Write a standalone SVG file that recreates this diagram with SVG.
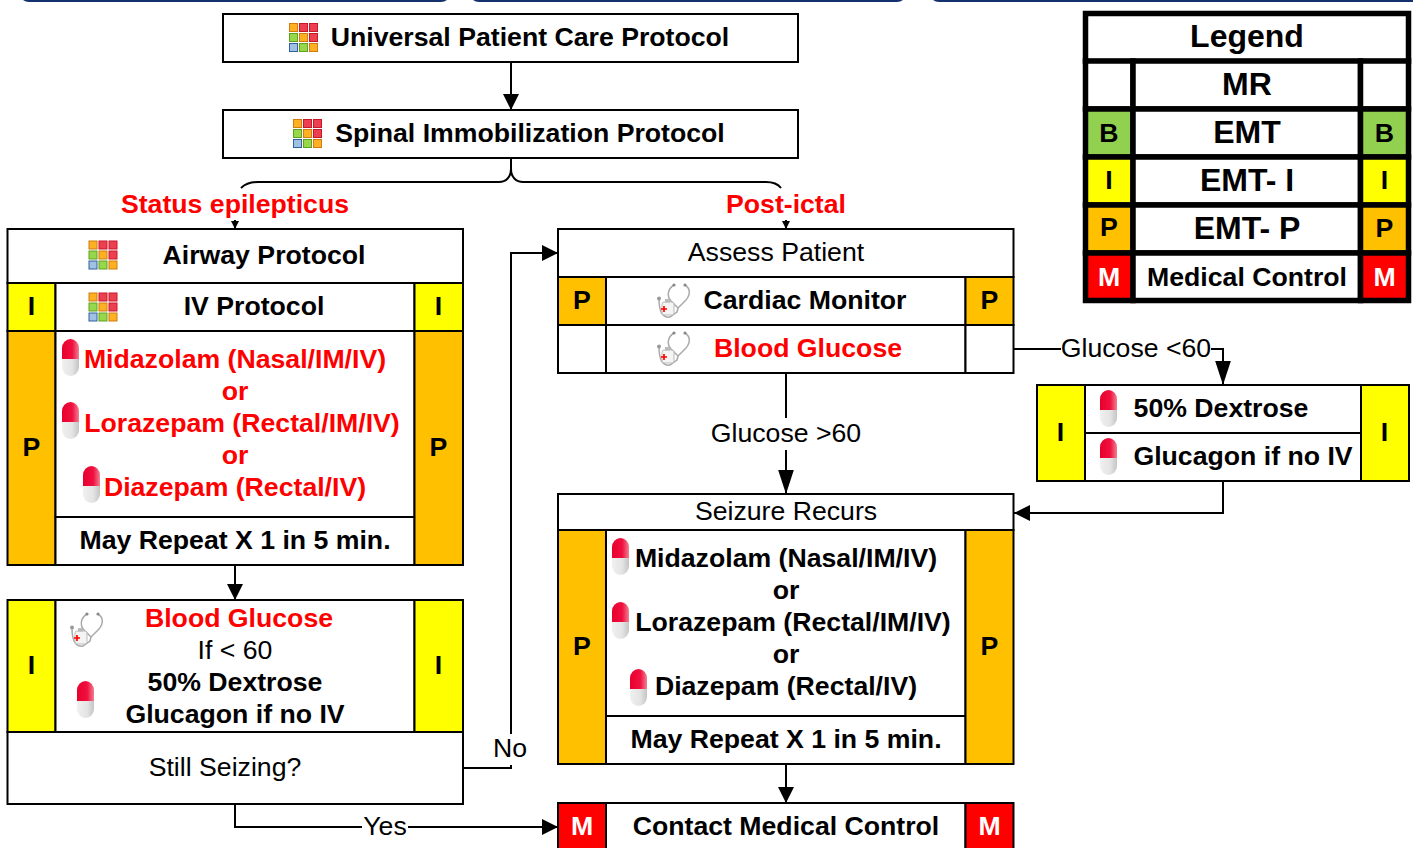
<svg xmlns="http://www.w3.org/2000/svg" width="1413" height="848" viewBox="0 0 1413 848">
<style>
text{font-family:"Liberation Sans",Arial,sans-serif;font-size:26.67px;fill:#000;text-anchor:middle}
.b{font-weight:700}
.r{fill:#f00;font-weight:700}
.w{fill:#fff;font-weight:700}
.big{font-size:32px;font-weight:700}
.box{fill:#fff;stroke:#000;stroke-width:2}
.i{fill:#ff0;stroke:#000;stroke-width:2}
.p{fill:#ffc000;stroke:#000;stroke-width:2}
.m{fill:#f00;stroke:#000;stroke-width:2}
.c{fill:none;stroke:#000;stroke-width:2}
.lg{fill:#fff;stroke:#000;stroke-width:5.5}
.lb{fill:#92d050;stroke:#000;stroke-width:5.5}
.li{fill:#ff0;stroke:#000;stroke-width:5.5}
.lp{fill:#ffc000;stroke:#000;stroke-width:5.5}
.lm{fill:#f00;stroke:#000;stroke-width:5.5}
.bgw{fill:#fff;stroke:none}
</style>
<defs>
<linearGradient id="rg" x1="0" x2="1" y1="0" y2="0"><stop offset="0" stop-color="#e8002c"/><stop offset=".6" stop-color="#f01040"/><stop offset="1" stop-color="#f08090"/></linearGradient>
<linearGradient id="gg" x1="0" x2="1" y1="0" y2="0"><stop offset="0" stop-color="#f0f0f0"/><stop offset=".6" stop-color="#e4e4e4"/><stop offset="1" stop-color="#c4c4c4"/></linearGradient>
<marker id="ah" markerUnits="userSpaceOnUse" markerWidth="18" markerHeight="18" refX="16" refY="8" orient="auto"><path d="M0 0L16 8L0 16Z" fill="#000"/></marker>
<marker id="al" markerUnits="userSpaceOnUse" markerWidth="26" markerHeight="18" refX="24.500" refY="8" orient="auto"><path d="M0 0L24.500 8L0 16Z" fill="#000"/></marker>
<marker id="as" markerUnits="userSpaceOnUse" markerWidth="10" markerHeight="10" refX="8" refY="4" orient="auto"><path d="M0 0L8 4L0 8Z" fill="#000"/></marker>
<g id="grid">
<rect x="0" y="0" width="8" height="8" fill="#fdb022" stroke="#d07a10"/><rect x="10" y="0" width="8" height="8" fill="#ec4050" stroke="#c81828"/><rect x="20" y="0" width="8" height="8" fill="#ec4050" stroke="#c81828"/>
<rect x="0" y="10" width="8" height="8" fill="#96d84a" stroke="#60a020"/><rect x="10" y="10" width="8" height="8" fill="#fdb022" stroke="#d07a10"/><rect x="20" y="10" width="8" height="8" fill="#ec4050" stroke="#c81828"/>
<rect x="0" y="20" width="8" height="8" fill="#a0c0e4" stroke="#3060a0"/><rect x="10" y="20" width="8" height="8" fill="#96d84a" stroke="#60a020"/><rect x="20" y="20" width="8" height="8" fill="#fdb022" stroke="#d07a10"/>
</g>
<g id="pill">
<path d="M0 20V9A8.500 9 0 0 1 17 9V20Z" fill="url(#rg)"/>
<path d="M0 20H17V28A8.500 9 0 0 1 0 28Z" fill="url(#gg)"/>
</g>
<g id="steth" fill="none">
<path d="M17 2C10 6 10 14 14 18L21 25L29 17C34 11 33 5 28 2" stroke="#aaa" stroke-width="1.500"/>
<path d="M21 25L20 29L13 34C7 35 2 31 2 16" stroke="#aaa" stroke-width="1.500"/>
<circle cx="17" cy="2" r="1.600" fill="#888"/><circle cx="28" cy="2" r="1.600" fill="#888"/><circle cx="2" cy="15.500" r="2" fill="#999"/>
<rect x="5" y="19" width="12" height="13" rx="2" fill="#f4f4f4" stroke="#bbb"/>
<rect x="8" y="16" width="5" height="3.500" fill="#bbb"/>
<path d="M4 26h6M7 23v6" stroke="#f00" stroke-width="1.700"/>
</g>
</defs>

<g id="top-band" fill="#fff" stroke="#14316e" stroke-width="2">
<rect x="20" y="-20" width="430" height="21" rx="9"/>
<rect x="470" y="-20" width="436" height="21" rx="9"/>
<rect x="930" y="-20" width="520" height="21" rx="9"/>
</g>

<g id="connectors">
<path class="c" d="M511 62V110" marker-end="url(#ah)"/>
<path class="c" d="M511 158V169C511 177 506 182 499 182H258C250 182 245 184 241 188"/>
<path class="c" d="M511 158V169C511 177 516 182 523 182H766C773 182 778 184 781 188"/>
<path class="c" d="M235 220V229" marker-end="url(#as)"/>
<path class="c" d="M786 220V229" marker-end="url(#as)"/>
<path class="c" d="M235 565V600" marker-end="url(#ah)"/>
<path class="c" d="M463 768H511V253H558" marker-end="url(#ah)"/>
<path class="c" d="M235 804V827H558" marker-end="url(#ah)"/>
<path class="c" d="M786 373V494" marker-end="url(#al)"/>
<path class="c" d="M786 764V803" marker-end="url(#ah)"/>
<path class="c" d="M1014 349H1223V385" marker-end="url(#al)"/>
<path class="c" d="M1223 481V513H1014" marker-end="url(#ah)"/>
<rect class="bgw" x="492" y="734" width="37" height="31"/>
<text x="510" y="757">No</text>
<rect class="bgw" x="362" y="814" width="46" height="26"/>
<text x="385" y="835">Yes</text>
<rect class="bgw" x="711" y="418" width="150" height="32"/>
<text x="786" y="442">Glucose &gt;60</text>
<rect class="bgw" x="1061" y="336" width="150" height="26"/>
<text x="1136" y="357">Glucose &lt;60</text>
<text class="r" x="235" y="213">Status epilepticus</text>
<text class="r" x="786" y="213">Post-ictal</text>
</g>

<g id="universal">
<rect class="box" x="223" y="14" width="575" height="48"/>
<use href="#grid" x="289.500" y="23.500"/>
<text class="b" x="530" y="46">Universal Patient Care Protocol</text>
</g>
<g id="spinal">
<rect class="box" x="223" y="110" width="575" height="48"/>
<use href="#grid" x="293.500" y="119.500"/>
<text class="b" x="530" y="142">Spinal Immobilization Protocol</text>
</g>

<g id="status-protocol">
<rect class="box" x="7.500" y="229" width="455.500" height="54"/>
<use href="#grid" x="89" y="241"/>
<text class="b" x="264" y="264">Airway Protocol</text>
<rect class="i" x="7.500" y="283" width="48" height="48"/>
<rect class="box" x="55.500" y="283" width="359" height="48"/>
<rect class="i" x="414.500" y="283" width="48.500" height="48"/>
<text class="b" x="31.500" y="315">I</text>
<text class="b" x="438.500" y="315">I</text>
<use href="#grid" x="89" y="293"/>
<text class="b" x="254" y="315">IV Protocol</text>
<rect class="p" x="7.500" y="331" width="48" height="234"/>
<rect class="box" x="55.500" y="331" width="359" height="186"/>
<rect class="box" x="55.500" y="517" width="359" height="48"/>
<rect class="p" x="414.500" y="331" width="48.500" height="234"/>
<text class="b" x="31.500" y="456">P</text>
<text class="b" x="438.500" y="456">P</text>
<use href="#pill" x="62" y="339"/>
<use href="#pill" x="62" y="402"/>
<use href="#pill" x="83" y="466"/>
<text class="r" x="235" y="368">Midazolam (Nasal/IM/IV)</text>
<text class="r" x="235" y="400">or</text>
<text class="r" x="242" y="432">Lorazepam (Rectal/IM/IV)</text>
<text class="r" x="235" y="464">or</text>
<text class="r" x="235" y="496">Diazepam (Rectal/IV)</text>
<text class="b" x="235" y="549">May Repeat X 1 in 5 min.</text>
</g>

<g id="glucose-left">
<rect class="i" x="7.500" y="600" width="48" height="132"/>
<rect class="box" x="55.500" y="600" width="359" height="132"/>
<rect class="i" x="414.500" y="600" width="48.500" height="132"/>
<text class="b" x="31.500" y="674">I</text>
<text class="b" x="438.500" y="674">I</text>
<use href="#steth" x="70" y="612"/>
<use href="#pill" x="77" y="681"/>
<text class="r" x="239" y="627">Blood Glucose</text>
<text x="235" y="659">If &lt; 60</text>
<text class="b" x="235" y="691">50% Dextrose</text>
<text class="b" x="235" y="723">Glucagon if no IV</text>
</g>

<g id="still-seizing">
<rect class="box" x="7.500" y="732" width="455.500" height="72"/>
<text x="225" y="776">Still Seizing?</text>
</g>

<g id="assess">
<rect class="box" x="558" y="229" width="455.500" height="48"/>
<text x="776" y="261">Assess Patient</text>
<rect class="p" x="558" y="277" width="48" height="48"/>
<rect class="box" x="606" y="277" width="359.500" height="48"/>
<rect class="p" x="965.500" y="277" width="48" height="48"/>
<text class="b" x="582" y="309">P</text>
<text class="b" x="989.500" y="309">P</text>
<use href="#steth" x="657" y="283"/>
<text class="b" x="805" y="309">Cardiac Monitor</text>
<rect class="box" x="558" y="325" width="48" height="48"/>
<rect class="box" x="606" y="325" width="359.500" height="48"/>
<rect class="box" x="965.500" y="325" width="48" height="48"/>
<use href="#steth" x="657" y="331"/>
<text class="r" x="808" y="357">Blood Glucose</text>
</g>

<g id="dextrose">
<rect class="i" x="1037" y="385" width="48" height="96"/>
<rect class="box" x="1085" y="385" width="276" height="48"/>
<rect class="box" x="1085" y="433" width="276" height="48"/>
<rect class="i" x="1361" y="385" width="48" height="96"/>
<text class="b" x="1060.500" y="441">I</text>
<text class="b" x="1384.500" y="441">I</text>
<use href="#pill" x="1100" y="390"/>
<use href="#pill" x="1100" y="438"/>
<text class="b" x="1221" y="417">50% Dextrose</text>
<text class="b" x="1243" y="465">Glucagon if no IV</text>
</g>

<g id="seizure-recurs">
<rect class="box" x="558" y="494" width="455.500" height="36"/>
<text x="786" y="520">Seizure Recurs</text>
<rect class="p" x="558" y="530" width="48" height="234"/>
<rect class="box" x="606" y="530" width="359.500" height="186"/>
<rect class="box" x="606" y="716" width="359.500" height="48"/>
<rect class="p" x="965.500" y="530" width="48" height="234"/>
<text class="b" x="582" y="655">P</text>
<text class="b" x="989.500" y="655">P</text>
<use href="#pill" x="612" y="538"/>
<use href="#pill" x="612" y="602"/>
<use href="#pill" x="630" y="669"/>
<text class="b" x="786" y="567">Midazolam (Nasal/IM/IV)</text>
<text class="b" x="786" y="599">or</text>
<text class="b" x="793" y="631">Lorazepam (Rectal/IM/IV)</text>
<text class="b" x="786" y="663">or</text>
<text class="b" x="786" y="695">Diazepam (Rectal/IV)</text>
<text class="b" x="786" y="748">May Repeat X 1 in 5 min.</text>
</g>

<g id="contact">
<rect class="m" x="558" y="803" width="48" height="48"/>
<rect class="box" x="606" y="803" width="359.500" height="48"/>
<rect class="m" x="965.500" y="803" width="48" height="48"/>
<text class="w" x="582" y="835">M</text>
<text class="w" x="989.500" y="835">M</text>
<text class="b" x="786" y="835">Contact Medical Control</text>
</g>

<g id="legend">
<rect class="lg" x="1085.500" y="13.500" width="323" height="48"/>
<rect class="lg" x="1085.500" y="61" width="47.500" height="48"/>
<rect class="lg" x="1133" y="61" width="227.500" height="48"/>
<rect class="lg" x="1360.500" y="61" width="48" height="48"/>
<rect class="lb" x="1085.500" y="109" width="47.500" height="48"/>
<rect class="lg" x="1133" y="109" width="227.500" height="48"/>
<rect class="lb" x="1360.500" y="109" width="48" height="48"/>
<rect class="li" x="1085.500" y="157" width="47.500" height="48"/>
<rect class="lg" x="1133" y="157" width="227.500" height="48"/>
<rect class="li" x="1360.500" y="157" width="48" height="48"/>
<rect class="lp" x="1085.500" y="205" width="47.500" height="48"/>
<rect class="lg" x="1133" y="205" width="227.500" height="48"/>
<rect class="lp" x="1360.500" y="205" width="48" height="48"/>
<rect class="lm" x="1085.500" y="253" width="47.500" height="47.500"/>
<rect class="lg" x="1133" y="253" width="227.500" height="47.500"/>
<rect class="lm" x="1360.500" y="253" width="48" height="47.500"/>
<text class="big" x="1247" y="47">Legend</text>
<text class="big" x="1247" y="95">MR</text>
<text class="b" x="1109" y="142">B</text>
<text class="big" x="1247" y="143">EMT</text>
<text class="b" x="1384.500" y="142">B</text>
<text class="b" x="1109" y="189">I</text>
<text class="big" x="1247" y="191">EMT- I</text>
<text class="b" x="1384.500" y="189">I</text>
<text class="b" x="1109" y="236">P</text>
<text class="big" x="1247" y="239">EMT- P</text>
<text class="b" x="1384.500" y="237">P</text>
<text class="w" x="1109" y="286">M</text>
<text class="b" x="1247" y="286">Medical Control</text>
<text class="w" x="1384.500" y="286">M</text>
</g>
</svg>
